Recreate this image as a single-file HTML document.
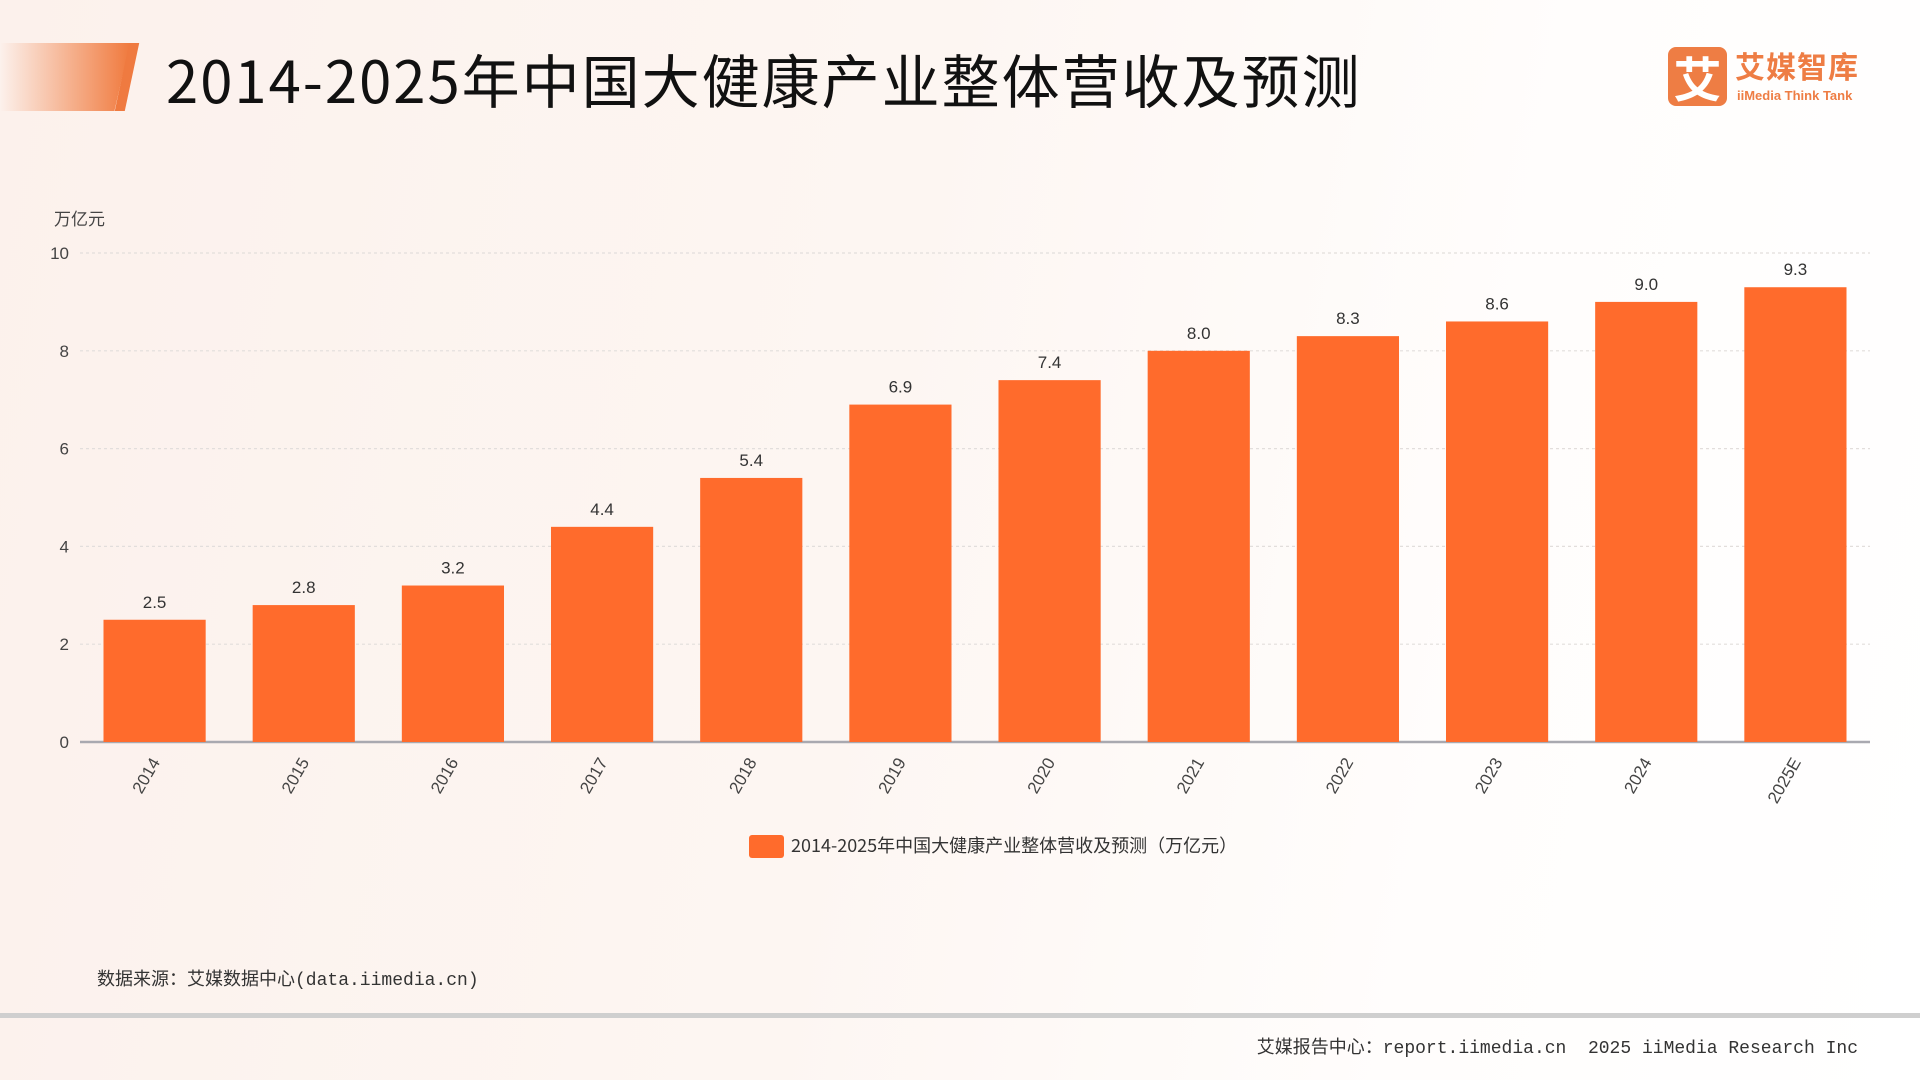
<!DOCTYPE html>
<html><head><meta charset="utf-8">
<style>
html,body{margin:0;padding:0}
body{width:1920px;height:1080px;position:relative;overflow:hidden;font-family:"Liberation Sans","Noto Sans CJK SC",sans-serif;background:linear-gradient(100deg,#fcf1ec 0%,#fdf6f2 45%,#fffdfc 75%,#fff 100%)}
.abs{position:absolute}
</style></head><body>
<div class="abs" style="left:0;top:43px;width:130px;height:68px;background:linear-gradient(90deg,rgba(244,130,70,0) 0%,#f07a3e 100%);clip-path:polygon(0 0,100% 0,88% 100%,0 100%)"></div>
<div class="abs" style="left:122px;top:43px;width:10px;height:68px;background:#ef7a40;transform:skewX(-12deg)"></div>
<div class="abs" style="left:166px;top:43px;font-size:58px;line-height:70px;letter-spacing:2px;color:#111;font-family:'Noto Sans CJK SC',sans-serif">2014-2025年中国大健康产业整体营收及预测</div>
<div class="abs" style="left:1668px;top:47px;width:59px;height:59px;background:#ee7d44;border-radius:8px;color:#fff;font-size:48px;line-height:59px;text-align:center;font-weight:bold;font-family:'Noto Sans CJK SC',sans-serif">艾</div>
<div class="abs" style="left:1735px;top:47px;font-size:30px;line-height:36px;color:#ee7d44;font-weight:bold;font-family:'Noto Sans CJK SC',sans-serif;letter-spacing:1px">艾媒智库</div>
<div class="abs" style="left:1737px;top:88px;font-size:13px;line-height:16px;color:#ee7d44;font-weight:bold">iiMedia Think Tank</div>

<svg class="abs" style="left:0;top:0" width="1920" height="1080">
<g id="grid"></g><g id="bars"></g><g id="labels"></g>
</svg>

<div class="abs" style="left:749px;top:835px;width:35px;height:23px;background:#ff6b2c;border-radius:3px"></div>
<div class="abs" style="left:791px;top:833px;font-size:18px;line-height:24px;color:#333;font-family:'Noto Sans CJK SC',sans-serif;letter-spacing:0px">2014-2025年中国大健康产业整体营收及预测（万亿元）</div>

<div class="abs" style="left:97px;top:969px;font-size:18px;line-height:24px;color:#333;font-family:'Liberation Mono','Noto Sans CJK SC',monospace">数据来源：艾媒数据中心(data.iimedia.cn)</div>
<div class="abs" style="left:0;top:1013px;width:1920px;height:5px;background:#cfcfcf"></div>
<div class="abs" style="right:62px;top:1037px;font-size:18px;line-height:24px;color:#333;font-family:'Liberation Mono','Noto Sans CJK SC',monospace;white-space:pre">艾媒报告中心：report.iimedia.cn  2025 iiMedia Research Inc</div>

<script>
const categories = ["2014","2015","2016","2017","2018","2019","2020","2021","2022","2023","2024","2025E"];
const values = [2.5,2.8,3.2,4.4,5.4,6.9,7.4,8.0,8.3,8.6,9.0,9.3];
const valueLabels = ["2.5","2.8","3.2","4.4","5.4","6.9","7.4","8.0","8.3","8.6","9.0","9.3"];
const yTicks = [0,2,4,6,8,10];

const NS="http://www.w3.org/2000/svg";
const plotL=80, plotR=1870, y0=742, y10=253, yMax=10;
const band=(plotR-plotL)/categories.length, barW=band*0.685;
function yScale(v){return y0-(v/yMax)*(y0-y10);}
function xScale(i){return plotL+band*i+band/2;}
function mk(tag,attrs,parent){const e=document.createElementNS(NS,tag);for(const k in attrs)e.setAttribute(k,attrs[k]);parent.appendChild(e);return e;}
const grid=document.getElementById('grid'),bars=document.getElementById('bars'),labels=document.getElementById('labels');

const unit=mk('text',{x:54,y:225,'font-size':17,fill:'#444','font-family':'Noto Sans CJK SC,sans-serif'},labels);
unit.textContent='万亿元';



yTicks.forEach(t=>{
  const y=yScale(t);
  if(t>0){
    const l=mk('line',{x1:plotL,x2:plotR,y1:y,y2:y,stroke:'#e2dedc','stroke-width':1.2,'stroke-dasharray':'3,3'},grid);
    
    
  }
  const tx=mk('text',{x:69,y:y+6,'text-anchor':'end','font-size':17,fill:'#444'},labels);
  tx.textContent=String(t);
  
  
});

categories.forEach((c,i)=>{
  const x=xScale(i), y=yScale(values[i]);
  const r=mk('rect',{x:x-barW/2,y:y,width:barW,height:y0-y,fill:'#ff6b2c'},bars);
  
  
  const v=mk('text',{x:x,y:y-12,'text-anchor':'middle','font-size':17,fill:'#333'},labels);
  v.textContent=valueLabels[i];
  
  
  const xl=mk('text',{x:0,y:0,'text-anchor':'end','font-size':17,fill:'#444',transform:`translate(${x+6},${y0+20}) rotate(-60)`},labels);
  xl.textContent=c;
  
  
});

const ax=mk('line',{x1:plotL,x2:plotR,y1:y0,y2:y0,stroke:'#a9a9b0','stroke-width':2.5},grid);


</script>
</body></html>
